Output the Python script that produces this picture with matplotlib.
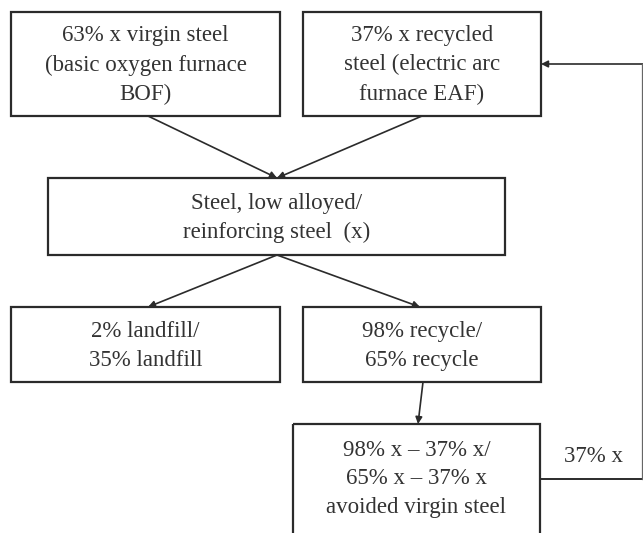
import matplotlib.pyplot as plt
from matplotlib.patches import Rectangle, FancyArrowPatch

# Box labels
labels = [
    "63% x virgin steel\n(basic oxygen furnace\nBOF)",
    "37% x recycled\nsteel (electric arc\nfurnace EAF)",
    "Steel, low alloyed/\nreinforcing steel  (x)",
    "2% landfill/\n35% landfill",
    "98% recycle/\n65% recycle",
    "98% x \u2013 37% x/\n65% x \u2013 37% x\navoided virgin steel",
]
loop_label = "37% x"

# Layout (pixels, origin top-left): left, top, right, bottom
boxes = [
    (11, 12, 280, 116),
    (303, 12, 541, 116),
    (48, 178, 505, 255),
    (11, 307, 280, 382),
    (303, 307, 541, 382),
    (293, 424, 540, 560),
]
text_y = [65, 65, 218, 346, 346, 479]

# Arrows: (start, end)
arrows = [
    ((148, 116), (277, 178)),
    ((422, 116), (277, 178)),
    ((277, 255), (148, 307)),
    ((277, 255), (420, 307)),
    ((423, 382), (418, 424)),
    ((643, 64), (541, 64)),
]

edge = '#2b2b2b'
txt = '#333333'

fig = plt.figure(figsize=(6.43, 5.33), dpi=100)
ax = fig.add_axes([0, 0, 1, 1])
ax.set_xlim(0, 643)
ax.set_ylim(533, 0)
ax.axis('off')

for (l, t, r, b), lab, ty in zip(boxes, labels, text_y):
    ax.add_patch(Rectangle((l, t), r - l, b - t, fill=False,
                           edgecolor=edge, linewidth=1.6))
    ax.text((l + r) / 2, ty, lab, ha='center', va='center', fontsize=16.5,
            family='Liberation Serif', color=txt, linespacing=1.5)

for start, end in arrows:
    ax.add_patch(FancyArrowPatch(start, end, arrowstyle='-|>',
                                 mutation_scale=10, color=edge,
                                 linewidth=1.2, shrinkA=0, shrinkB=0))

# Feedback loop lines
ax.plot([540, 643], [479, 479], color=edge, linewidth=1.4)
ax.plot([641.5, 641.5], [64, 479], color='#666666', linewidth=0.9)
ax.text(593, 456, loop_label, ha='center', va='center', fontsize=16.5,
        family='Liberation Serif', color=txt)

plt.savefig("out.png", dpi=100)
